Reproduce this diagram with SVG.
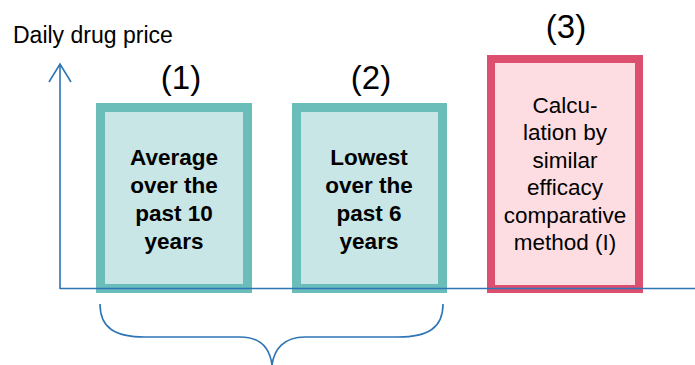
<svg xmlns="http://www.w3.org/2000/svg" width="695" height="365" viewBox="0 0 695 365">
<style>
.t{font-family:"Liberation Sans",Arial,sans-serif;fill:#000;text-anchor:middle}
.b{font-size:22.5px;font-weight:bold}
.r{font-size:22.5px}
.n{font-size:33px}
.ax{stroke:#2e75b6;stroke-width:1.6;fill:none}
.teal{fill:#c8e6e5;stroke:#6bbdb9;stroke-width:9}
.pink{fill:#fddde2;stroke:#dc4f6e;stroke-width:8}
</style>
<rect width="695" height="365" fill="#fff"/>
<text class="t" x="13" y="42.5" style="text-anchor:start;font-size:23px">Daily drug price</text>
<g id="node1">
<rect class="teal" x="100.5" y="107.5" width="147" height="181"/>
<text class="t n" x="181" y="89">(1)</text>
<text class="t b" x="174"><tspan x="174" y="165">Average</tspan><tspan x="174" y="193">over the</tspan><tspan x="174" y="221">past 10</tspan><tspan x="174" y="249">years</tspan></text>
</g>
<g id="node2">
<rect class="teal" x="296.5" y="107.5" width="146" height="181"/>
<text class="t n" x="371" y="89">(2)</text>
<text class="t b" x="369"><tspan x="369" y="165">Lowest</tspan><tspan x="369" y="193">over the</tspan><tspan x="369" y="221">past 6</tspan><tspan x="369" y="249">years</tspan></text>
</g>
<g id="node3">
<rect class="pink" x="491" y="59" width="148" height="230"/>
<text class="t n" x="566" y="38">(3)</text>
<text class="t r" x="565"><tspan x="565" y="112.5">Calcu-</tspan><tspan x="565" y="140">lation by</tspan><tspan x="565" y="167.5">similar</tspan><tspan x="565" y="195">efficacy</tspan><tspan x="565" y="222.5">comparative</tspan><tspan x="565" y="250">method (I)</tspan></text>
</g>
<g id="connectors">
<path class="ax" d="M60,289 L60,64 M49,82 L60,64 L71,82"/>
<path class="ax" d="M60,288.5 L695,288.5"/>
<path class="ax" d="M100,304 C100,328 115,337 145,337 L240,337 C262,337 270,350 272,365 M443,304 C443,328 428,337 398,337 L305,337 C283,337 274,350 272,365"/>
</g>
</svg>
